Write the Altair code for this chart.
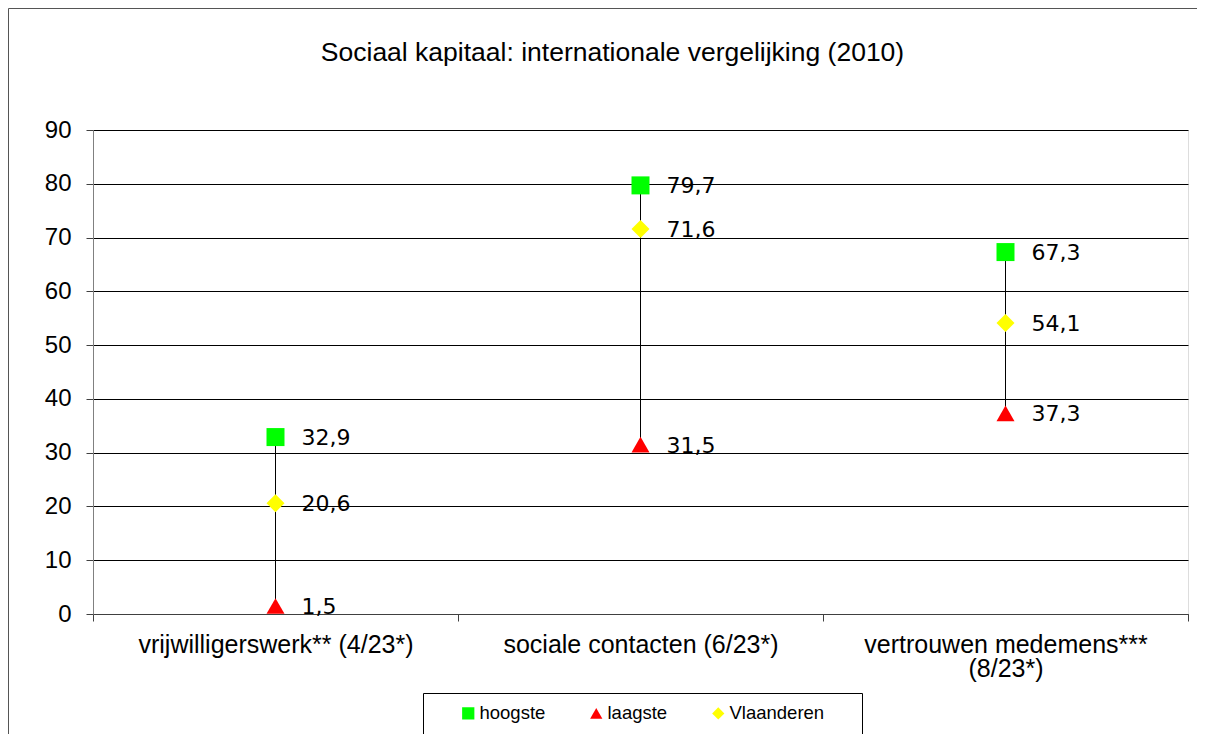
import altair as alt
import pandas as pd

title_text = "Sociaal kapitaal: internationale vergelijking (2010)"
categories = ["vrijwilligerswerk** (4/23*)", "sociale contacten (6/23*)", "vertrouwen medemens***|(8/23*)"]
hoogste = [32.9, 79.7, 67.3]
laagste = [1.5, 31.5, 37.3]
vlaanderen = [20.6, 71.6, 54.1]
series_names = ["hoogste", "laagste", "Vlaanderen"]
series_colors = ["#00ff00", "#ff0000", "#ffff00"]
series_shapes = ["square", "triangle-up", "diamond"]
y_ticks = [0, 10, 20, 30, 40, 50, 60, 70, 80, 90]

rows = []
for i in range(len(categories)):
    for name, vals in zip(series_names, [hoogste, laagste, vlaanderen]):
        rows.append({"pos": i + 0.5, "serie": name, "waarde": vals[i]})
df = pd.DataFrame(rows)
rng = pd.DataFrame({"pos": [i + 0.5 for i in range(len(categories))], "laag": laagste, "hoog": hoogste})

# label expression for category axis
parts = []
for i, c in enumerate(categories):
    if "|" in c:
        lab = "split('%s','|')" % c
    else:
        lab = "'%s'" % c
    parts.append("datum.value === %s ? %s" % (i + 0.5, lab))
label_expr = " : ".join(parts) + " : ''"

W, H = 1095, 484
FONT = "Liberation Sans"

x_scale = alt.Scale(domain=[0, len(categories)], nice=False, zero=False)
y_scale = alt.Scale(domain=[0, 90], nice=False)

x_axis = alt.Axis(
    values=[0, 0.5, 1, 1.5, 2, 2.5, 3],
    labelExpr=label_expr,
    title=None,
    grid=False,
    tickSize=7,
    tickColor="#404040",
    tickOpacity={"condition": {"test": "datum.value % 1 === 0", "value": 1}, "value": 0},
    domainColor="#404040",
    labelFont=FONT,
    labelFontSize=25,
    labelColor="black",
    labelPadding=11,
    labelLineHeight=24,
    labelOverlap=False,
    labelFlush=False,
    labelLimit=0,
    labelBaseline="top",
)
y_axis = alt.Axis(
    values=y_ticks,
    title=None,
    grid=True,
    gridColor="black",
    gridWidth=1,
    gridOpacity=1,
    tickSize=7,
    tickColor="#404040",
    domainColor="#808080",
    labelFont=FONT,
    labelFontSize=24,
    labelColor="black",
    labelPadding=15,
)

rule = alt.Chart(rng).mark_rule(color="black", strokeWidth=1).encode(
    x=alt.X("pos:Q", scale=x_scale, axis=x_axis),
    y=alt.Y("laag:Q", scale=y_scale, axis=y_axis),
    y2="hoog:Q",
)

points = alt.Chart(df).mark_point(filled=True, size=324, opacity=1, strokeWidth=0).encode(
    x=alt.X("pos:Q", scale=x_scale, axis=x_axis),
    y=alt.Y("waarde:Q", scale=y_scale, axis=y_axis),
    color=alt.Color(
        "serie:N",
        scale=alt.Scale(domain=series_names, range=series_colors),
        legend=alt.Legend(
            title=None,
            orient="none",
            legendX=366,
            legendY=574,
            direction="horizontal",
            symbolSize=150,
            symbolStrokeWidth=0,
            labelFont=FONT,
            labelFontSize=18.5,
            labelColor="black",
            labelOffset=2,
            columnPadding=41,
            padding=0,
        ),
    ),
    shape=alt.Shape("serie:N", scale=alt.Scale(domain=series_names, range=series_shapes)),
)

labels = alt.Chart(df).transform_calculate(
    lbl="replace(format(datum.waarde, '.1f'), '.', ',')"
).mark_text(align="left", baseline="middle", dx=26, dy=1, font="DejaVu Sans", fontSize=22, color="black").encode(
    x=alt.X("pos:Q", scale=x_scale),
    y=alt.Y("waarde:Q", scale=y_scale),
    text="lbl:N",
)

one = pd.DataFrame({"t": [title_text]})
title = alt.Chart(one).mark_text(
    align="center", baseline="alphabetic", font=FONT, fontSize=26.5, color="black"
).encode(x=alt.value(519.5), y=alt.value(-69), text="t:N")

legend_box = alt.Chart(one).mark_rect(fill="transparent", stroke="black", strokeWidth=1).encode(
    x=alt.value(330.5), x2=alt.value(769.5), y=alt.value(563.5), y2=alt.value(606.5)
)
frame = alt.Chart(one).mark_rect(fill="transparent", stroke="#555555", strokeWidth=1).encode(
    x=alt.value(-84.5), x2=alt.value(1150), y=alt.value(-121.5), y2=alt.value(700)
)

chart = alt.layer(frame, title, rule, points, labels, legend_box).properties(
    width=W,
    height=H,
    autosize=alt.AutoSizeParams(type="none"),
    padding={"left": 85, "top": 122, "right": 9, "bottom": 120},
).configure_view(stroke="#808080", strokeWidth=1).configure(background="white")

chart.save("out.html", embed_options={"renderer": "svg", "actions": False})
